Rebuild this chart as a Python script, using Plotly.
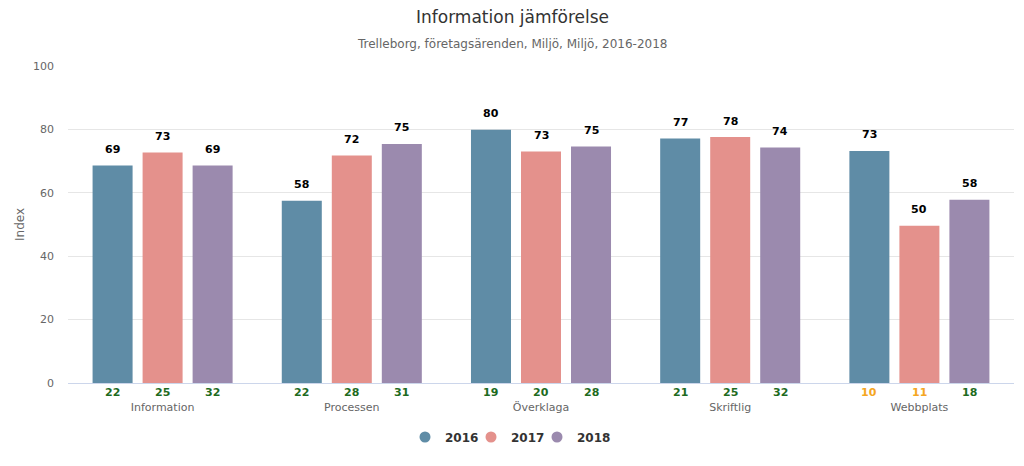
import plotly.graph_objects as go

categories = ["Information", "Processen", "Överklaga", "Skriftlig", "Webbplats"]
years = ["2016", "2017", "2018"]
values_2016 = [68.6, 57.5, 79.9, 77.1, 73.2]
values_2017 = [72.7, 71.8, 73.0, 77.6, 49.6]
values_2018 = [68.6, 75.4, 74.6, 74.3, 57.8]
counts_2016 = [22, 22, 19, 21, 10]
counts_2017 = [25, 28, 20, 25, 11]
counts_2018 = [32, 31, 28, 32, 18]
colors = ["#5f8ca6", "#e4918c", "#9b8aae"]
low_threshold = 15

series = [values_2016, values_2017, values_2018]
counts = [counts_2016, counts_2017, counts_2018]

font_family = "DejaVu Sans, Verdana, sans-serif"
W, H = 1008, 450
ML, MR, MT, MB = 60, 2, 58, 75
plot_h = H - MT - MB
plot_w = W - ML - MR
center_x = (W / 2 - ML) / plot_w
legend_x = (W / 2 + 25 - ML) / plot_w

fig = go.Figure()
xs = list(range(len(categories)))
bargap = 0.207
slot = (1 - bargap) / 3
for j, (yr, vals, col) in enumerate(zip(years, series, colors)):
    fig.add_trace(go.Bar(
        x=xs, y=vals, name=yr, marker=dict(color=col, line=dict(width=0)),
        showlegend=False, hoverinfo="x+y",
    ))
    fig.add_trace(go.Scatter(
        x=[None], y=[None], mode="markers", name=yr,
        marker=dict(symbol="circle", size=11, color=col), showlegend=True,
    ))
    for i, v in enumerate(vals):
        fig.add_annotation(
            x=i + (j - 1) * slot, y=v, xref="x", yref="y",
            text=f"<b>{v:.0f}</b>", showarrow=False, yanchor="middle", yshift=16,
            font=dict(family=font_family, size=11, color="#000000"),
        )

# spacer legend entry so the last label is not clipped
fig.add_trace(go.Scatter(
    x=[None], y=[None], mode="markers", name=" ",
    marker=dict(symbol="circle", size=11, color="rgba(0,0,0,0)"), showlegend=True,
    hoverinfo="skip",
))

for j, cnts in enumerate(counts):
    for i, c in enumerate(cnts):
        fig.add_annotation(
            x=i + (j - 1) * slot, y=0, xref="x", yref="y",
            text=f"<b>{c}</b>", showarrow=False, yanchor="middle", yshift=-9,
            font=dict(family=font_family, size=11,
                      color="#f5a623" if c < low_threshold else "#1e6b1e"),
        )

fig.add_annotation(
    text="Information jämförelse", xref="paper", yref="paper",
    x=center_x, y=1 + (MT - 9) / plot_h, xanchor="center", yanchor="middle",
    showarrow=False, font=dict(family=font_family, size=17, color="#333333"),
)
fig.add_annotation(
    text="Trelleborg, företagsärenden, Miljö, Miljö, 2016-2018", xref="paper", yref="paper",
    x=center_x, y=1 + (MT - 36) / plot_h, xanchor="center", yanchor="middle",
    showarrow=False, font=dict(family=font_family, size=12, color="#666666"),
)

fig.update_layout(
    width=W, height=H,
    margin=dict(l=ML, r=MR, t=MT, b=MB),
    paper_bgcolor="white", plot_bgcolor="white",
    barmode="group", bargap=bargap, bargroupgap=0.2,
    font=dict(family=font_family, color="#666666"),
    legend=dict(
        orientation="h", x=legend_x, xanchor="center", y=-54 / plot_h, yanchor="middle",
        font=dict(family=font_family, size=12, color="#333333", weight="bold"),
        itemwidth=30, entrywidth=21,
    ),
    xaxis=dict(
        tickmode="array", tickvals=xs, ticktext=categories,
        range=[-0.5, len(categories) - 0.5],
        showline=True, linecolor="#ccd6eb", linewidth=1,
        showgrid=False, zeroline=False, ticks="",
        tickfont=dict(family=font_family, size=11, color="#666666"),
        ticklabelstandoff=14,
    ),
    yaxis=dict(
        range=[0, 100], dtick=20, showgrid=True, gridcolor="#e6e6e6",
        zeroline=False, showline=False, ticks="",
        tickfont=dict(family=font_family, size=11, color="#666666"),
        ticklabelstandoff=13,
        title=dict(text="Index", font=dict(family=font_family, size=12, color="#666666"), standoff=5),
    ),
)

fig.write_html("out.html")
